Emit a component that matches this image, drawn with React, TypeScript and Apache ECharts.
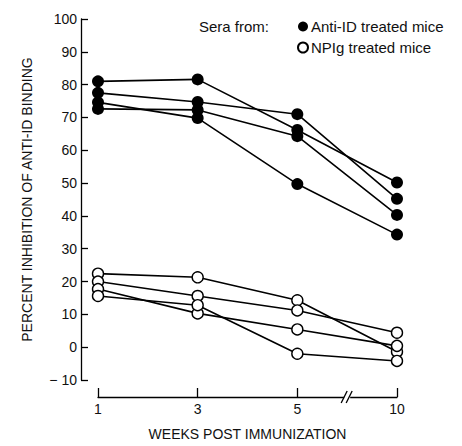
import React, { useEffect, useRef } from "react";
import * as echarts from "echarts";

const weeks = ["1", "3", "5", "10"];
const yTicks = { min: -10, max: 100, interval: 10 };

const antiIdName = "Anti-ID treated mice";
const npigName = "NPIg treated mice";

const antiId1 = [81, 81.6, 66.2, 50.2];
const antiId2 = [77.5, 74.7, 71.0, 45.2];
const antiId3 = [74.6, 69.8, 49.7, 34.3];
const antiId4 = [72.6, 72.3, 64.3, 40.3];

const npig1 = [22.4, 21.3, 14.3, -1.4];
const npig2 = [20.0, 15.6, 11.2, 4.4];
const npig3 = [17.7, 10.3, 5.4, 0.4];
const npig4 = [15.6, 12.8, -2.0, -4.2];

const FONT = "Liberation Sans";

export default function App() {
  const ref = useRef<HTMLDivElement>(null);
  useEffect(() => {
    if (!ref.current) return;
    const chart = echarts.init(ref.current, null, { renderer: "svg" });
    const filled = (data: number[]) => ({
      name: antiIdName,
      type: "line",
      data,
      symbol: "circle",
      symbolSize: 12,
      lineStyle: { color: "#000", width: 1.6 },
      itemStyle: { color: "#000", borderColor: "#000", borderWidth: 0 },
      z: 3,
    });
    const open = (data: number[]) => ({
      name: npigName,
      type: "line",
      data,
      symbol: "circle",
      symbolSize: 11,
      lineStyle: { color: "#000", width: 1.6 },
      itemStyle: { color: "#fff", borderColor: "#000", borderWidth: 1.4 },
      z: 3,
    });
    chart.setOption({
      animation: false,
      backgroundColor: "#fff",
      title: {
        text: "Sera from:",
        left: 194,
        top: 14,
        textStyle: { fontFamily: FONT, fontSize: 15, fontWeight: "normal", color: "#111" },
      },
      legend: {
        data: [antiIdName, npigName],
        orient: "vertical",
        left: 292,
        top: 14,
        icon: "circle",
        itemWidth: 10,
        itemHeight: 10,
        itemGap: 6,
        selectedMode: false,
        textStyle: { fontFamily: FONT, fontSize: 15, color: "#111", padding: [0, 0, 0, -2] },
      },
      grid: { left: 98, right: 65, top: 19, bottom: 60 },
      xAxis: {
        type: "category",
        data: weeks,
        boundaryGap: false,
        offset: 17,
        name: "WEEKS POST IMMUNIZATION",
        nameLocation: "middle",
        nameGap: 30,
        nameTextStyle: { fontFamily: FONT, fontSize: 14, color: "#111" },
        axisLine: { onZero: false, lineStyle: { color: "#000", width: 1.3 } },
        axisTick: { inside: true, length: 9, alignWithLabel: true, lineStyle: { color: "#000", width: 1.3 } },
        axisLabel: { fontFamily: FONT, fontSize: 14, color: "#111", margin: 5 },
        splitLine: { show: false },
      },
      yAxis: {
        type: "value",
        min: yTicks.min,
        max: yTicks.max,
        interval: yTicks.interval,
        offset: 17,
        name: "PERCENT INHIBITION OF ANTI-ID BINDING",
        nameLocation: "middle",
        nameRotate: 90,
        nameGap: 47,
        nameTextStyle: { fontFamily: FONT, fontSize: 14, color: "#111" },
        axisLine: { show: true, lineStyle: { color: "#000", width: 1.3 } },
        axisTick: { show: true, inside: true, length: 7, lineStyle: { color: "#000", width: 1.3 } },
        axisLabel: {
          fontFamily: FONT,
          fontSize: 14,
          color: "#111",
          margin: 4,
          formatter: (v: number) => (v < 0 ? "\u2212 " + Math.abs(v) : String(v)),
        },
        splitLine: { show: false },
      },
      series: [
        filled(antiId1),
        filled(antiId2),
        filled(antiId3),
        filled(antiId4),
        open(npig1),
        open(npig2),
        open(npig3),
        open(npig4),
      ],
    });
    // axis break mark between the last two categories
    const x5 = chart.convertToPixel({ xAxisIndex: 0 }, "5") as number;
    const x10 = chart.convertToPixel({ xAxisIndex: 0 }, "10") as number;
    const yBottom = chart.convertToPixel({ yAxisIndex: 0 }, yTicks.min) as number;
    const bx = (x5 + x10) / 2;
    const by = yBottom + 17;
    chart.setOption({
      graphic: [
        { type: "rect", shape: { x: bx - 3, y: by - 3, width: 6, height: 6 }, style: { fill: "#fff" }, z: 10 },
        { type: "line", shape: { x1: bx - 6, y1: by + 6, x2: bx, y2: by - 6 }, style: { stroke: "#000", lineWidth: 1.3 }, z: 11 },
        { type: "line", shape: { x1: bx - 1, y1: by + 6, x2: bx + 5, y2: by - 6 }, style: { stroke: "#000", lineWidth: 1.3 }, z: 11 },
      ],
    });
    return () => chart.dispose();
  }, []);
  return <div ref={ref} style={{ position: "fixed", left: 0, top: 0, width: 462, height: 446 }} />;
}
